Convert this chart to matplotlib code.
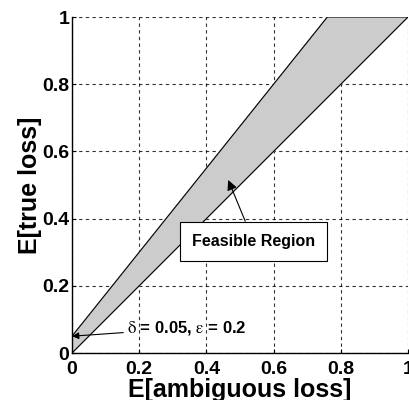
import matplotlib.pyplot as plt
import numpy as np

plt.rcParams['font.family'] = ['Liberation Sans', 'DejaVu Sans']
plt.rcParams['mathtext.fontset'] = 'stix'

# boundary of the feasible region
upper_x = [0.0, 0.76, 1.0]
upper_y = [0.05, 1.0, 1.0]
lower_x = [0.0, 1.0]
lower_y = [0.0, 1.0]
ticks = [0, 0.2, 0.4, 0.6, 0.8, 1]
tick_labels = ['0', '0.2', '0.4', '0.6', '0.8', '1']

fig = plt.figure(figsize=(4.09, 4.00), dpi=100)
ax = fig.add_axes([72/409, 47/400, 336/409, 336/400])

# polygon: upper boundary then lower boundary back
px = upper_x + lower_x[::-1]
py = upper_y + lower_y[::-1]
ax.fill(px, py, color='#cccccc', zorder=2)
ax.plot(upper_x, upper_y, color='black', lw=0.8, zorder=3)
ax.plot(lower_x, lower_y, color='black', lw=0.8, zorder=3)

ax.set_xlim(0, 1)
ax.set_ylim(0, 1)
ax.set_xticks(ticks)
ax.set_yticks(ticks)
ax.set_xticklabels(tick_labels, fontsize=14, fontweight='bold')
ax.set_yticklabels(tick_labels, fontsize=14, fontweight='bold')
ax.tick_params(direction='in', length=3, pad=2)
ax.tick_params(axis='x', pad=6)
ax.grid(True, ls=(0, (3, 3)), color='black', lw=0.8, alpha=0.8)
ax.set_axisbelow(True)
for s in ['top', 'right']:
    ax.spines[s].set_visible(False)
for s in ['left', 'bottom']:
    ax.spines[s].set_linewidth(1.0)

ax.set_xlabel('E[ambiguous loss]', fontsize=18, fontweight='bold', labelpad=0)
ax.set_ylabel('E[true loss]', fontsize=18, fontweight='bold', labelpad=0)

ax.annotate('Feasible Region', xy=(0.465, 0.515), xytext=(0.54, 0.333),
            fontsize=11.5, fontweight='bold', ha='center', va='center',
            bbox=dict(boxstyle='square,pad=0.75', fc='white', ec='black', lw=0.8),
            arrowprops=dict(arrowstyle='-|>', color='black', lw=0.8,
                            mutation_scale=15, shrinkA=0, shrinkB=0),
            zorder=5)

ax.annotate(r'$\mathrm{\delta}$ = 0.05, $\mathrm{\epsilon}$ = 0.2', xy=(0.0, 0.05),
            xytext=(0.165, 0.074), fontsize=12, fontweight='bold',
            ha='left', va='center',
            arrowprops=dict(arrowstyle='-|>', color='black', lw=0.8,
                            mutation_scale=10, shrinkA=1, shrinkB=0),
            zorder=5)

fig.savefig('out.png', dpi=100)
